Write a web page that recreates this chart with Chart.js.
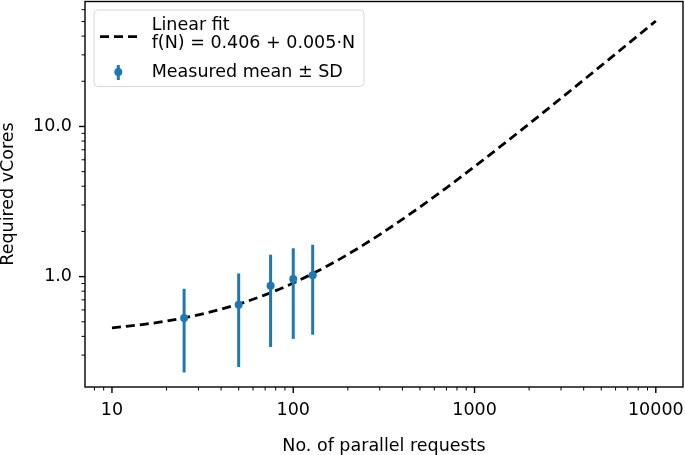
<!DOCTYPE html>
<html><head><meta charset="utf-8">
<script src="https://cdn.jsdelivr.net/npm/chart.js@4/dist/chart.umd.min.js"></script>
<style>html,body{margin:0;padding:0;background:#fff;}#wrap{width:685px;height:455px;position:relative;}</style>
</head><body><div id="wrap"><canvas id="c" width="685" height="455"></canvas></div>
<script>
// ---- data ----
const requests = [25, 50, 75, 100, 128];
const meanCores = [0.53, 0.65, 0.87, 0.965, 1.02];
const sdCores = [0.30, 0.40, 0.53, 0.58, 0.61];
const fitN = [10, 15, 20, 30, 50, 70, 100, 150, 200, 300, 500, 700, 1000, 1500, 2000, 3000, 5000, 7000, 10000];
const fitCores = [0.456, 0.481, 0.506, 0.556, 0.656, 0.756, 0.906, 1.156, 1.406, 1.906, 2.906, 3.906, 5.406, 7.906, 10.41, 15.41, 25.41, 35.41, 50.41];
const xTickLabels = [10, 100, 1000, 10000];
const yTickLabels = [1, 10];
const legendFit = ['Linear fit', 'f(N) = 0.406 + 0.005\u00b7N'];
const legendMeas = 'Measured mean \u00b1 SD';

const BLUE = '#1f77b4';
const FONT = 'DejaVu Sans';
const FS = 17.5;

const datasets = [];
datasets.push({
  data: requests.map((n, i) => ({x: n, y: meanCores[i]})),
  backgroundColor: BLUE, borderColor: BLUE, pointRadius: 4, pointBorderWidth: 0, showLine: false
});
requests.forEach((n, i) => {
  datasets.push({
    data: [{x: n, y: meanCores[i] - sdCores[i]}, {x: n, y: meanCores[i] + sdCores[i]}],
    borderColor: BLUE, borderWidth: 3, pointRadius: 0, showLine: true, borderCapStyle: 'butt'
  });
});
datasets.push({
  data: fitN.map((n, i) => ({x: n, y: fitCores[i]})),
  borderColor: '#000', borderWidth: 2.8, borderDash: [9, 5], pointRadius: 0, showLine: true,
  cubicInterpolationMode: 'monotone', borderCapStyle: 'butt'
});

function isIntSig(v) {
  const e = Math.floor(Math.log10(v) + 1e-9);
  const s = v / Math.pow(10, e);
  return Math.abs(s - Math.round(s)) < 1e-6;
}
function isDecade(v) {
  const l = Math.log10(v);
  return Math.abs(l - Math.round(l)) < 1e-6;
}
function zeroPad(s) { s.paddingTop = 0; s.paddingBottom = 0; s.paddingLeft = 0; s.paddingRight = 0; }

const framePlugin = {
  id: 'frame',
  afterDraw(chart) {
    const {ctx, chartArea: a, scales: {x, y}} = chart;
    ctx.save();
    ctx.strokeStyle = '#000';
    ctx.setLineDash([]);
    x.ticks.forEach(t => {
      if (!isIntSig(t.value)) return;
      const px = x.getPixelForValue(t.value);
      if (px < a.left - 0.5 || px > a.right + 0.5) return;
      const maj = isDecade(t.value);
      ctx.lineWidth = maj ? 1.4 : 1.0;
      ctx.beginPath(); ctx.moveTo(px, a.bottom); ctx.lineTo(px, a.bottom + (maj ? 6 : 3.5)); ctx.stroke();
    });
    y.ticks.forEach(t => {
      if (!isIntSig(t.value)) return;
      const py = y.getPixelForValue(t.value);
      if (py < a.top - 0.5 || py > a.bottom + 0.5) return;
      const maj = isDecade(t.value);
      ctx.lineWidth = maj ? 1.4 : 1.0;
      ctx.beginPath(); ctx.moveTo(a.left, py); ctx.lineTo(a.left - (maj ? 6 : 3.5), py); ctx.stroke();
    });
    ctx.lineWidth = 1.4;
    ctx.strokeRect(a.left, a.top + 0.5, a.right - a.left, a.bottom - a.top - 0.5);

    // legend
    ctx.font = FS + 'px "' + FONT + '"';
    const tx = 151.7;
    const w = Math.max(...legendFit.map(s => ctx.measureText(s).width), ctx.measureText(legendMeas).width);
    const bx = 94, by = 10, bw = tx + w + 9 - bx, bh = 76.5, r = 4;
    ctx.beginPath();
    ctx.moveTo(bx + r, by); ctx.lineTo(bx + bw - r, by); ctx.quadraticCurveTo(bx + bw, by, bx + bw, by + r);
    ctx.lineTo(bx + bw, by + bh - r); ctx.quadraticCurveTo(bx + bw, by + bh, bx + bw - r, by + bh);
    ctx.lineTo(bx + r, by + bh); ctx.quadraticCurveTo(bx, by + bh, bx, by + bh - r);
    ctx.lineTo(bx, by + r); ctx.quadraticCurveTo(bx, by, bx + r, by);
    ctx.closePath();
    ctx.fillStyle = 'rgba(255,255,255,0.8)'; ctx.fill();
    ctx.strokeStyle = '#d6d6d6'; ctx.lineWidth = 1; ctx.stroke();

    ctx.strokeStyle = '#000'; ctx.lineWidth = 2.8; ctx.setLineDash([9, 5]);
    ctx.beginPath(); ctx.moveTo(100, 36.7); ctx.lineTo(137, 36.7); ctx.stroke();
    ctx.setLineDash([]);
    ctx.strokeStyle = BLUE; ctx.lineWidth = 3;
    ctx.beginPath(); ctx.moveTo(118.3, 65); ctx.lineTo(118.3, 80); ctx.stroke();
    ctx.fillStyle = BLUE; ctx.beginPath(); ctx.arc(118.3, 72, 4, 0, Math.PI * 2); ctx.fill();

    ctx.fillStyle = '#000'; ctx.textBaseline = 'alphabetic'; ctx.textAlign = 'left';
    ctx.fillText(legendFit[0], tx, 30);
    ctx.fillText(legendFit[1], tx, 48.3);
    ctx.fillText(legendMeas, tx, 76.7);
    ctx.restore();
  }
};

const tickFont = {family: FONT, size: FS};
new Chart(document.getElementById('c'), {
  type: 'scatter',
  data: {datasets},
  plugins: [framePlugin],
  options: {
    responsive: false, animation: false, devicePixelRatio: 1,
    layout: {padding: {top: 1, right: 2, left: 0, bottom: 0}, autoPadding: false},
    plugins: {legend: {display: false}, tooltip: {enabled: false}},
    scales: {
      x: {
        type: 'logarithmic', position: 'bottom', min: 7.1, max: 14125,
        afterFit: s => { s.height = 68; zeroPad(s); },
        grid: {display: true, drawOnChartArea: false, drawTicks: true, tickLength: 6, color: 'rgba(0,0,0,0)', tickColor: 'rgba(0,0,0,0)'},
        border: {display: false},
        ticks: {autoSkip: false, maxRotation: 0, minRotation: 0, padding: 7, color: '#000', font: tickFont,
          callback: v => xTickLabels.some(t => Math.abs(v - t) < 1e-6 * t) ? String(Math.round(v)) : ''},
        title: {display: true, text: 'No. of parallel requests', color: '#000', font: {family: FONT, size: FS, lineHeight: 1.0}, padding: {top: 0, bottom: 0}}
      },
      y: {
        type: 'logarithmic', position: 'left', min: 0.184, max: 68.5,
        afterFit: s => { s.width = 85; zeroPad(s); },
        grid: {display: true, drawOnChartArea: false, drawTicks: true, tickLength: 6, color: 'rgba(0,0,0,0)', tickColor: 'rgba(0,0,0,0)'},
        border: {display: false},
        ticks: {autoSkip: false, padding: 7, color: '#000', font: tickFont,
          callback: v => yTickLabels.some(t => Math.abs(v - t) < 1e-6 * t) ? v.toFixed(1) : ''},
        title: {display: true, text: 'Required vCores', color: '#000', font: {family: FONT, size: FS, lineHeight: 1.0}, padding: {top: 0, bottom: 0}}
      }
    }
  }
});
</script></body></html>
